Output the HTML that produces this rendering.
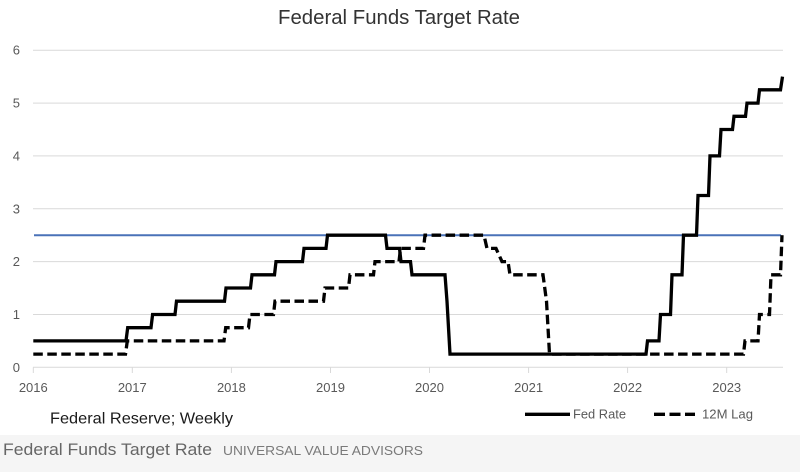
<!DOCTYPE html>
<html>
<head>
<meta charset="utf-8">
<style>
html,body{margin:0;padding:0;background:#fff;}
body{width:800px;height:472px;overflow:hidden;}
svg{display:block;}
</style>
</head>
<body>
<svg width="800" height="472" viewBox="0 0 800 472" xmlns="http://www.w3.org/2000/svg" font-family="Liberation Sans, sans-serif">
  <rect x="0" y="0" width="800" height="472" fill="#ffffff"/>
  <rect x="0" y="435" width="800" height="37" fill="#f5f5f5"/>

  <!-- title -->
  <text x="278" y="24" font-size="20" fill="#333333" textLength="242" lengthAdjust="spacingAndGlyphs">Federal Funds Target Rate</text>

  <!-- gridlines -->
  <g stroke="#d9d9d9" stroke-width="1">
    <line x1="33" y1="50.2" x2="783" y2="50.2"/>
    <line x1="33" y1="103.1" x2="783" y2="103.1"/>
    <line x1="33" y1="155.9" x2="783" y2="155.9"/>
    <line x1="33" y1="208.8" x2="783" y2="208.8"/>
    <line x1="33" y1="261.6" x2="783" y2="261.6"/>
    <line x1="33" y1="314.5" x2="783" y2="314.5"/>
    <line x1="33" y1="367.3" x2="783" y2="367.3"/>
    <line x1="33.3" y1="367.3" x2="33.3" y2="373"/>
    <line x1="132.3" y1="367.3" x2="132.3" y2="373"/>
    <line x1="231.4" y1="367.3" x2="231.4" y2="373"/>
    <line x1="330.5" y1="367.3" x2="330.5" y2="373"/>
    <line x1="429.5" y1="367.3" x2="429.5" y2="373"/>
    <line x1="528.6" y1="367.3" x2="528.6" y2="373"/>
    <line x1="627.6" y1="367.3" x2="627.6" y2="373"/>
    <line x1="726.7" y1="367.3" x2="726.7" y2="373"/>
  </g>

  <!-- y labels -->
  <g font-size="13" fill="#595959" text-anchor="end">
    <text x="20" y="54.7">6</text>
    <text x="20" y="107.6">5</text>
    <text x="20" y="160.4">4</text>
    <text x="20" y="213.3">3</text>
    <text x="20" y="266.1">2</text>
    <text x="20" y="319">1</text>
    <text x="20" y="371.8">0</text>
  </g>

  <!-- x labels -->
  <g font-size="13" fill="#595959" text-anchor="middle">
    <text x="33.3" y="392">2016</text>
    <text x="132.3" y="392">2017</text>
    <text x="231.4" y="392">2018</text>
    <text x="330.5" y="392">2019</text>
    <text x="429.5" y="392">2020</text>
    <text x="528.6" y="392">2021</text>
    <text x="627.6" y="392">2022</text>
    <text x="726.7" y="392">2023</text>
  </g>

  <!-- 2.5 reference line -->
  <line x1="34" y1="235.2" x2="781" y2="235.2" stroke="#4a72b8" stroke-width="2"/>

  <!-- Fed Rate -->
  <path fill="none" stroke="#000" stroke-width="3.3" stroke-linejoin="miter"
    d="M33.3,340.9 H126 L127.7,327.7 H151 L152.6,314.5 H175 L176.5,301.2 H224.5 L226,288 H250.5 L252,274.8 H274.5 L276,261.6 H302.5 L304,248.4 H326 L327.5,235.2 H385.5 L387,248.4 H399.5 L401,261.6 H410.5 L412,274.8 H445 L447,301.2 L450,354.1 H646 L647.5,340.9 H659 L660.5,314.5 H670.5 L672,274.8 H682 L683.5,235.2 H696.5 L698,195.5 H708.5 L710,155.9 H719.5 L721,129.5 H732.5 L734,116.3 H745.5 L747,103.1 H758 L759.5,89.8 H780.5 L782.5,76.6"/>

  <!-- 12M Lag -->
  <path fill="none" stroke="#000" stroke-width="3.3" stroke-dasharray="9.5 4.5"
    d="M33.3,354.1 H125.5 L127.3,340.9 H224 L225.7,327.7 H248.5 L250,314.5 H273.5 L275,301.2 H323.5 L325,288 H348.5 L350,274.8 H373.5 L375,261.6 H399 L400.5,248.4 H423.5 L425,235.2 H484 L487,248.4 H496 L502,261.6 H508 L510,274.8 H543 L546.5,301.2 L549.5,354.1 H743.5 L745,340.9 H758 L759.5,314.5 H769.5 L771,274.8 H780.5 L782,235.2"/>

  <!-- source note -->
  <text x="50" y="423.3" font-size="16" fill="#1a1a1a" textLength="183" lengthAdjust="spacingAndGlyphs">Federal Reserve; Weekly</text>

  <!-- legend -->
  <line x1="525" y1="414.3" x2="570" y2="414.3" stroke="#000" stroke-width="3.3"/>
  <text x="573" y="418.5" font-size="13" fill="#595959" textLength="53" lengthAdjust="spacingAndGlyphs">Fed Rate</text>
  <line x1="654" y1="414.3" x2="695" y2="414.3" stroke="#000" stroke-width="3.3" stroke-dasharray="11 4.5"/>
  <text x="702" y="418.5" font-size="13" fill="#595959" textLength="51" lengthAdjust="spacingAndGlyphs">12M Lag</text>

  <!-- footer -->
  <text x="3" y="455" font-size="17" fill="#666666" textLength="209" lengthAdjust="spacingAndGlyphs">Federal Funds Target Rate</text>
  <text x="223" y="455" font-size="13" fill="#7a7a7a" textLength="200" lengthAdjust="spacingAndGlyphs">UNIVERSAL VALUE ADVISORS</text>
</svg>
</body>
</html>
